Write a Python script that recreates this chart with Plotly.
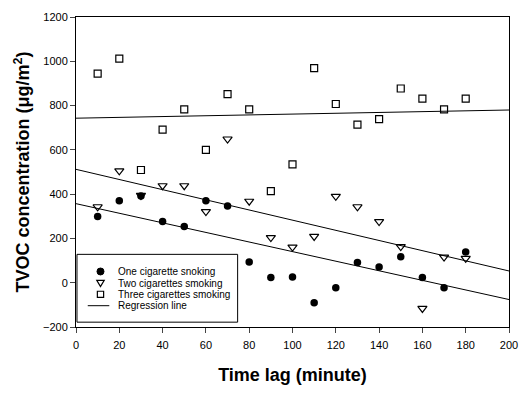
import plotly.graph_objects as go

time_lag = [10, 20, 30, 40, 50, 60, 70, 80, 90, 100, 110, 120, 130, 140, 150, 160, 170, 180]

one_cig = [299, 370, 392, 277, 254, 370, 346, 94, 23, 26, -90, -23, 91, 71, 117, 24, -23, 139]
two_cig = [343, 505, 394, 438, 438, 321, 649, 368, 204, 161, 209, 390, 343, 276, 163, -116, 116, 110]
three_cig = [944, 1012, 509, 691, 783, 600, 852, 783, 414, 534, 969, 807, 714, 739, 877, 831, 783, 831]

# regression lines: value at x=0 and at x=200
reg_x = [0, 200]
reg_one = [357, -76]
reg_two = [512, 53]
reg_three = [743, 780]

legend_labels = ["One cigarette snoking", "Two cigarettes smoking",
                 "Three cigarettes smoking", "Regression line"]

x_ticks = [0, 20, 40, 60, 80, 100, 120, 140, 160, 180, 200]
y_ticks = [-200, 0, 200, 400, 600, 800, 1000, 1200]

FONT = "Liberation Sans, Arial, sans-serif"
W, H = 529, 393
ML, MR, MT, MB = 76, 11, 13, 60
PW, PH = W - ML - MR, H - MT - MB


def px(x):
    return (x - ML) / PW


def py(y):
    return (H - MB - y) / PH


fig = go.Figure()

for ys in [reg_one, reg_two, reg_three]:
    fig.add_trace(go.Scatter(
        x=reg_x, y=ys, mode="lines",
        line=dict(color="black", width=1), name=legend_labels[3],
    ))

fig.add_trace(go.Scatter(
    x=time_lag, y=one_cig, mode="markers", name=legend_labels[0],
    marker=dict(symbol="circle", size=7.5, color="black"),
))
fig.add_trace(go.Scatter(
    x=time_lag, y=two_cig, mode="markers", name=legend_labels[1],
    marker=dict(symbol="triangle-down-open", size=8, color="black",
                line=dict(width=1.2, color="black")),
))
fig.add_trace(go.Scatter(
    x=time_lag, y=three_cig, mode="markers", name=legend_labels[2],
    marker=dict(symbol="square-open", size=7, color="black",
                line=dict(width=1.2, color="black")),
))

# hand-built legend box (rows are tighter than plotly's native legend allows)
shapes = []
annotations = []
box = dict(x0=77, x1=241, y0=258, y1=328)
shapes.append(dict(type="rect", xref="paper", yref="paper",
                   x0=px(box["x0"]), x1=px(box["x1"]), y0=py(box["y1"]), y1=py(box["y0"]),
                   line=dict(color="black", width=1), fillcolor="white", layer="above"))
rows = [275.7, 287.7, 299.3, 311.0]
kx = 101
# circle key
r = 3.6
shapes.append(dict(type="circle", xref="paper", yref="paper",
                   x0=px(kx - r), x1=px(kx + r), y0=py(rows[0] + r), y1=py(rows[0] - r),
                   line=dict(color="black", width=1), fillcolor="black", layer="above"))
# triangle-down key
ty = rows[1]
shapes.append(dict(type="path", xref="paper", yref="paper",
                   path=f"M{px(kx-3.8)},{py(ty-2.8)} L{px(kx+3.8)},{py(ty-2.8)} L{px(kx)},{py(ty+3.6)} Z",
                   line=dict(color="black", width=1.2), fillcolor="white", layer="above"))
# square key
s = 3.2
shapes.append(dict(type="rect", xref="paper", yref="paper",
                   x0=px(kx - s), x1=px(kx + s), y0=py(rows[2] + s), y1=py(rows[2] - s),
                   line=dict(color="black", width=1.2), fillcolor="white", layer="above"))
# line key
shapes.append(dict(type="line", xref="paper", yref="paper",
                   x0=px(88), x1=px(110), y0=py(rows[3]), y1=py(rows[3]),
                   line=dict(color="black", width=1), layer="above"))
for label, ry in zip(legend_labels, rows):
    annotations.append(dict(xref="paper", yref="paper", x=px(116.5), y=py(ry),
                            xanchor="left", yanchor="middle", text=label, showarrow=False,
                            font=dict(size=10, family=FONT, color="black")))

fig.update_layout(
    width=W, height=H,
    margin=dict(l=ML, r=MR, t=MT, b=MB),
    paper_bgcolor="white", plot_bgcolor="white",
    font=dict(family=FONT, color="black", size=11),
    showlegend=False,
    shapes=shapes, annotations=annotations,
)

fig.update_xaxes(
    range=[0, 200], tickvals=x_ticks, ticks="outside", ticklen=5,
    showline=True, linecolor="black", linewidth=1, mirror=True,
    showgrid=False, zeroline=False, tickfont=dict(size=11), ticklabelstandoff=3,
    title=dict(text="<b>Time lag (minute)</b>", font=dict(size=18), standoff=18),
)
fig.update_yaxes(
    range=[-200, 1200], tickvals=y_ticks, ticks="outside", ticklen=5,
    showline=True, linecolor="black", linewidth=1, mirror=True,
    showgrid=False, zeroline=False, tickfont=dict(size=11),
    title=dict(text="<b>TVOC concentration (μg/m<sup>2</sup>)</b>", font=dict(size=18), standoff=8),
)

fig.write_html("out.html")
